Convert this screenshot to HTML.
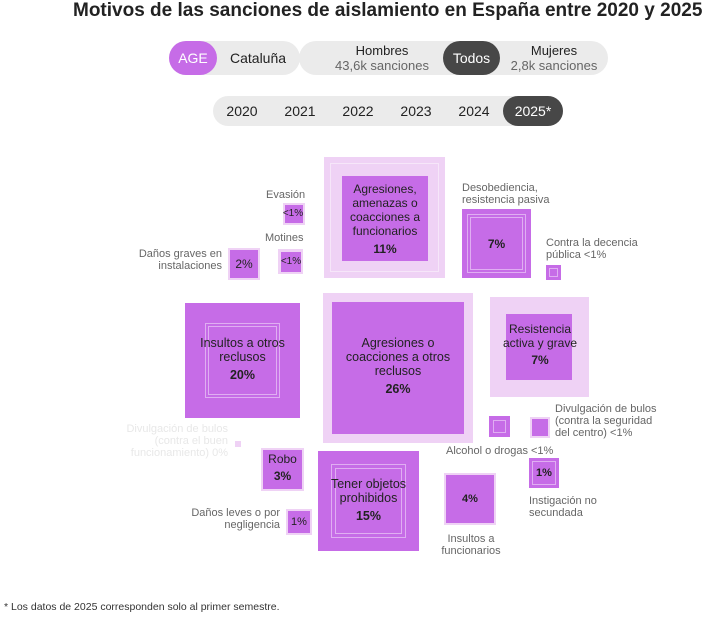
<!DOCTYPE html>
<html><head><meta charset="utf-8"><style>
*{margin:0;padding:0;box-sizing:border-box}
body{width:709px;height:617px;background:#fff;font-family:"Liberation Sans",sans-serif;position:relative;overflow:hidden;color:#222}
.a{position:absolute}
.d{position:absolute;background:#c66ce7}
.l{position:absolute;background:#efd2f5}
.in{position:absolute;border:1px solid rgba(255,255,255,.45)}
.t{position:absolute;font-size:11px;color:#666;line-height:12px}
.c{position:absolute;font-size:12px;color:#222;line-height:14px;text-align:center}
.b{font-weight:bold}
.pill{position:absolute;background:#ebebeb;border-radius:17px}
</style></head><body>
<div class="a b" style="left:73px;top:0px;font-size:19px;color:#222;white-space:nowrap;transform-origin:0 0;transform:scaleX(1.0)">Motivos de las sanciones de aislamiento en España entre 2020 y 2025</div>

<div class="pill" style="left:169px;top:41px;width:131px;height:34px"></div>
<div class="a" style="left:169px;top:41px;width:48px;height:34px;background:#c66ce7;border-radius:17px;color:#fff;font-size:14px;line-height:34px;text-align:center">AGE</div>
<div class="a" style="left:230px;top:41px;font-size:14px;line-height:34px">Cataluña</div>

<div class="pill" style="left:299px;top:41px;width:309px;height:34px"></div>
<div class="a" style="left:443px;top:41px;width:57px;height:34px;background:#474747;border-radius:17px;color:#fff;font-size:14px;line-height:34px;text-align:center">Todos</div>
<div class="a" style="left:320px;top:43px;width:124px;text-align:center;font-size:13px;line-height:15px">Hombres<br><span style="color:#666">43,6k sanciones</span></div>
<div class="a" style="left:500px;top:43px;width:108px;text-align:center;font-size:13px;line-height:15px">Mujeres<br><span style="color:#666">2,8k sanciones</span></div>

<div class="pill" style="left:213px;top:96px;width:350px;height:30px;border-radius:15px"></div>
<div class="a" style="left:213px;top:96px;font-size:14px;line-height:30px;width:290px;display:flex;justify-content:space-around"><span>2020</span><span>2021</span><span>2022</span><span>2023</span><span>2024</span></div>
<div class="a" style="left:503px;top:96px;width:60px;height:30px;background:#474747;border-radius:15px;color:#fff;font-size:14px;line-height:30px;text-align:center">2025*</div>

<div class="l" style="left:324px;top:157px;width:121px;height:121px"></div>
<div class="in" style="left:330px;top:163px;width:109px;height:109px"></div>
<div class="d" style="left:342px;top:176px;width:86px;height:85px"></div>
<div class="c" style="left:332px;top:182px;width:106px">Agresiones,<br>amenazas o<br>coacciones a<br>funcionarios<br><span class="b" style="line-height:22px">11%</span></div>

<div class="t" style="left:266px;top:189px">Evasión</div>
<div class="l" style="left:283px;top:203px;width:22px;height:22px"></div>
<div class="d" style="left:285px;top:205px;width:18px;height:18px"></div>
<div class="c" style="left:280px;top:208px;width:26px;font-size:10px;line-height:12px">&lt;1%</div>

<div class="t" style="left:265px;top:232px">Motines</div>
<div class="l" style="left:278px;top:249px;width:25px;height:25px"></div>
<div class="d" style="left:281px;top:252px;width:20px;height:20px"></div>
<div class="c" style="left:278px;top:256px;width:26px;font-size:10px;line-height:12px">&lt;1%</div>

<div class="t" style="left:120px;top:248px;width:102px;text-align:right">Daños graves en<br>instalaciones</div>
<div class="l" style="left:228px;top:248px;width:32px;height:32px"></div>
<div class="d" style="left:230px;top:250px;width:28px;height:28px"></div>
<div class="c" style="left:228px;top:257px;width:32px">2%</div>

<div class="d" style="left:185px;top:303px;width:115px;height:115px"></div>
<div class="in" style="left:205px;top:323px;width:75px;height:75px"></div>
<div class="in" style="left:208px;top:326px;width:69px;height:69px"></div>
<div class="c" style="left:185px;top:336px;width:115px;font-size:12.5px">Insultos a otros<br>reclusos<br><span class="b" style="line-height:22px">20%</span></div>

<div class="l" style="left:323px;top:293px;width:150px;height:150px"></div>
<div class="d" style="left:332px;top:302px;width:132px;height:132px"></div>
<div class="c" style="left:332px;top:336px;width:132px;font-size:12.5px">Agresiones o<br>coacciones a otros<br>reclusos<br><span class="b" style="line-height:22px">26%</span></div>

<div class="t" style="left:462px;top:182px">Desobediencia,<br>resistencia pasiva</div>
<div class="d" style="left:462px;top:209px;width:69px;height:69px"></div>
<div class="in" style="left:467px;top:214px;width:59px;height:59px"></div>
<div class="in" style="left:470px;top:217px;width:53px;height:53px"></div>
<div class="c" style="left:462px;top:237px;width:69px"><span class="b">7%</span></div>

<div class="t" style="left:546px;top:237px">Contra la decencia<br>pública &lt;1%</div>
<div class="d" style="left:546px;top:265px;width:15px;height:15px"></div>
<div class="in" style="left:549px;top:268px;width:9px;height:9px"></div>

<div class="l" style="left:490px;top:297px;width:99px;height:100px"></div>
<div class="d" style="left:506px;top:314px;width:66px;height:66px"></div>
<div class="c" style="left:496px;top:322px;width:88px">Resistencia<br>activa y grave<br><span class="b" style="line-height:20px">7%</span></div>

<div class="d" style="left:489px;top:416px;width:21px;height:21px"></div>
<div class="in" style="left:493px;top:420px;width:13px;height:13px"></div>
<div class="t" style="left:446px;top:445px">Alcohol o drogas &lt;1%</div>

<div class="l" style="left:530px;top:417px;width:20px;height:21px"></div>
<div class="d" style="left:532px;top:419px;width:16px;height:17px"></div>
<div class="t" style="left:555px;top:403px">Divulgación de bulos<br>(contra la seguridad<br>del centro) &lt;1%</div>

<div class="d" style="left:529px;top:458px;width:30px;height:30px"></div>
<div class="in" style="left:532px;top:461px;width:24px;height:24px"></div>
<div class="c" style="left:529px;top:466px;width:30px;font-size:11px"><span class="b">1%</span></div>
<div class="t" style="left:529px;top:495px">Instigación no<br>secundada</div>

<div class="l" style="left:444px;top:473px;width:52px;height:52px"></div>
<div class="d" style="left:446px;top:475px;width:48px;height:48px"></div>
<div class="c" style="left:444px;top:492px;width:52px;font-size:11px"><span class="b">4%</span></div>
<div class="t" style="left:430px;top:533px;width:82px;text-align:center">Insultos a<br>funcionarios</div>

<div class="l" style="left:235px;top:441px;width:6px;height:6px"></div>
<div class="t" style="left:110px;top:423px;width:118px;text-align:right;color:#e8e8e8">Divulgación de bulos<br>(contra el buen<br>funcionamiento) 0%</div>

<div class="l" style="left:261px;top:448px;width:43px;height:43px"></div>
<div class="d" style="left:263px;top:450px;width:39px;height:39px"></div>
<div class="c" style="left:261px;top:452px;width:43px">Robo<br><span class="b" style="line-height:20px">3%</span></div>

<div class="d" style="left:318px;top:451px;width:101px;height:100px"></div>
<div class="in" style="left:331px;top:464px;width:75px;height:74px"></div>
<div class="in" style="left:335px;top:468px;width:67px;height:66px"></div>
<div class="c" style="left:318px;top:477px;width:101px;font-size:12.5px">Tener objetos<br>prohibidos<br><span class="b" style="line-height:22px">15%</span></div>

<div class="t" style="left:170px;top:507px;width:110px;text-align:right">Daños leves o por<br>negligencia</div>
<div class="l" style="left:286px;top:509px;width:26px;height:26px"></div>
<div class="d" style="left:288px;top:511px;width:22px;height:22px"></div>
<div class="c" style="left:286px;top:515px;width:26px;font-size:11px">1%</div>

<div class="a" style="left:4px;top:601px;font-size:10.5px;color:#333">* Los datos de 2025 corresponden solo al primer semestre.</div>
</body></html>
